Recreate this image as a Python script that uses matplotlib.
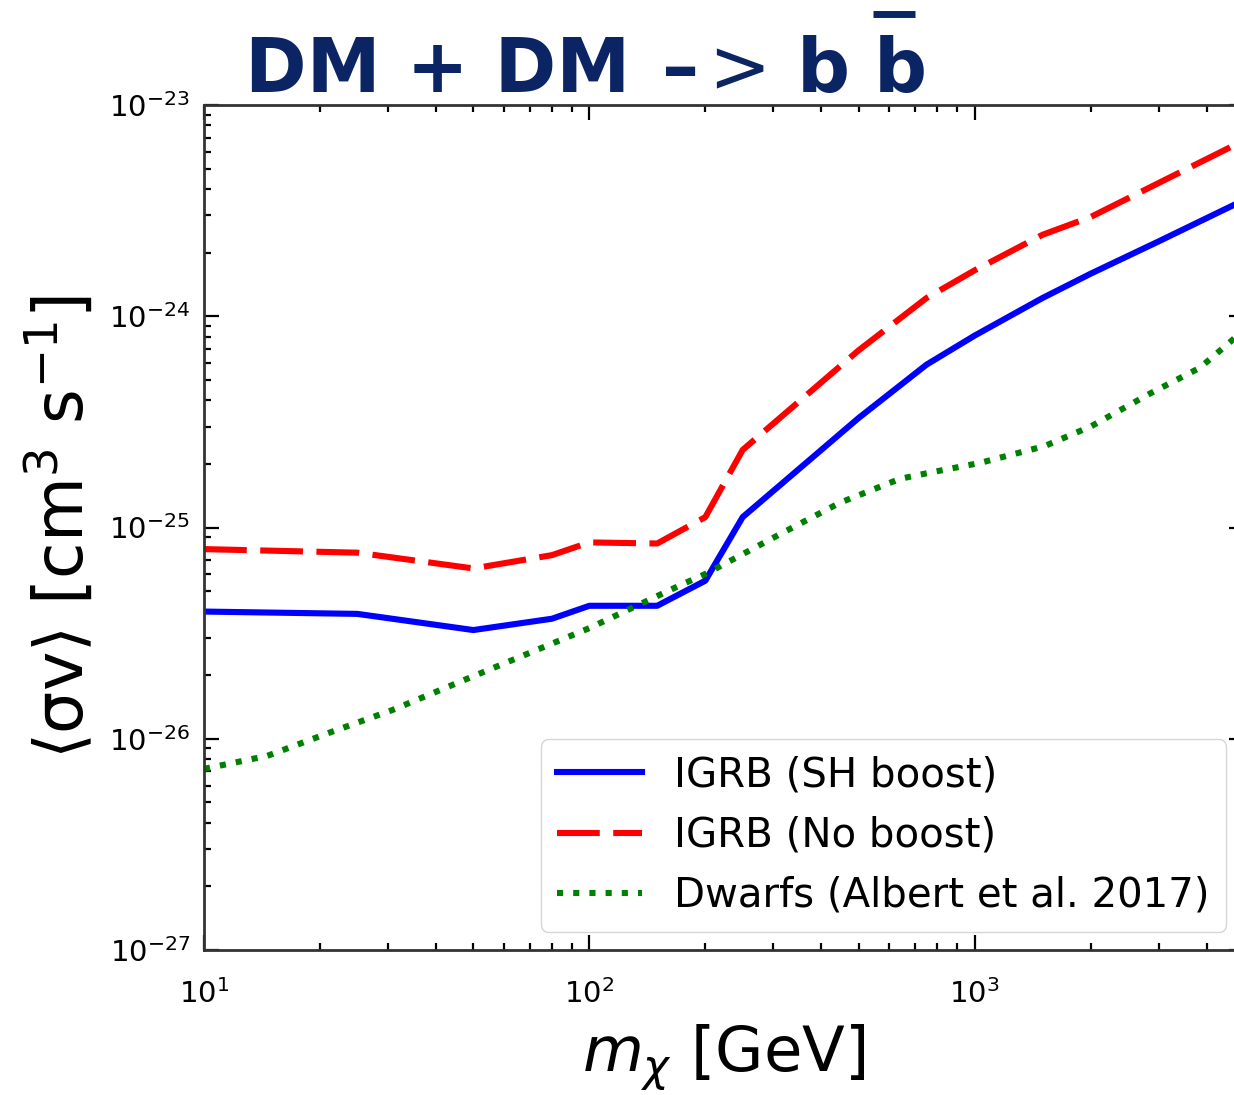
import matplotlib
matplotlib.use("Agg")
import matplotlib.pyplot as plt
from matplotlib.lines import Line2D
import numpy as np

# ---------------- data ----------------
mass_igrb = [10, 25, 50, 80, 100, 150, 200, 250, 500, 750, 1000, 1500, 2000, 3000, 5000]
sv_sh_boost = [4.0e-26, 3.9e-26, 3.27e-26, 3.7e-26, 4.26e-26, 4.26e-26, 5.6e-26, 1.12e-25,
               3.3e-25, 5.9e-25, 8.1e-25, 1.22e-24, 1.59e-24, 2.26e-24, 3.55e-24]
sv_no_boost = [7.9e-26, 7.6e-26, 6.4e-26, 7.4e-26, 8.5e-26, 8.4e-26, 1.12e-25, 2.33e-25,
               6.9e-25, 1.22e-24, 1.65e-24, 2.43e-24, 2.95e-24, 4.27e-24, 6.8e-24]

mass_dwarf = [10, 14.6, 21.2, 30.9, 48.1, 70, 100, 129, 171, 203, 316, 447, 640, 778,
              1030, 1520, 2010, 2840, 3840, 5000]
sv_dwarf = [7.2e-27, 8.3e-27, 1.07e-26, 1.37e-26, 1.92e-26, 2.55e-26, 3.34e-26, 4.16e-26,
            5.3e-26, 6.1e-26, 9.4e-26, 1.31e-25, 1.70e-25, 1.83e-25, 2.02e-25, 2.43e-25,
            3.02e-25, 4.29e-25, 5.7e-25, 8.6e-25]

labels = ["IGRB (SH boost)", "IGRB (No boost)", "Dwarfs (Albert et al. 2017)"]
title_parts = ["DM + DM", "\u2013", ">", "b", "b"]
title_weights = ["bold", "bold", "normal", "bold", "bold"]

# ---------------- figure ----------------
W, H = 1234, 1095
fig = plt.figure(figsize=(W / 100, H / 100), dpi=100)
ax = fig.add_axes([204 / W, 1 - 950 / H, (1244 - 204) / W, (950 - 105) / H])

lw = 4.4
ax.plot(mass_igrb, sv_sh_boost, color="blue", lw=lw, label=labels[0])
ax.plot(mass_igrb, sv_no_boost, color="red", lw=lw, dashes=(7, 2.2), label=labels[1])
ax.plot(mass_dwarf, sv_dwarf, color="green", lw=lw, ls=":", label=labels[2])

ax.set_xscale("log")
ax.set_yscale("log")
ax.set_xlim(10, 5000)
ax.set_ylim(1e-27, 1e-23)

for s in ax.spines.values():
    s.set_linewidth(2.0)
    s.set_color("#333333")
ax.tick_params(which="both", direction="in", top=True, right=True, labelsize=21,
               width=1.6, color="black")
ax.tick_params(which="major", length=11)
ax.tick_params(axis="x", which="major", pad=21)
ax.tick_params(axis="y", which="major", pad=10)
ax.tick_params(which="minor", length=5)

ax.set_xlabel(r"$m_\chi$ [GeV]", fontsize=45, labelpad=10)
ax.set_ylabel(r"$\langle \mathrm{\sigma v} \rangle$ [cm$^3$ s$^{-1}$]", fontsize=48,
              labelpad=8)

leg = ax.legend(loc="lower right", fontsize=29, handlelength=2.1, handletextpad=0.8,
                borderaxespad=0.45, framealpha=0.8, fancybox=True)

# ---------------- title overlay ----------------
navy = "#0b2464"
tsize = 53.5
xs_px = [245, 662, 708, 797, 874]
for s, xp, wgt in zip(title_parts, xs_px, title_weights):
    fig.text(xp / W, 1 - 92 / H, s, fontsize=tsize, fontweight=wgt,
             color=navy, ha="left", va="baseline", family="DejaVu Sans")
ybar = (H - 13.5) / H
fig.add_artist(Line2D([873 / W, 915 / W], [ybar, ybar],
                      transform=fig.transFigure, color=navy, lw=5, solid_capstyle="butt"))

fig.savefig("out.png", dpi=100)
